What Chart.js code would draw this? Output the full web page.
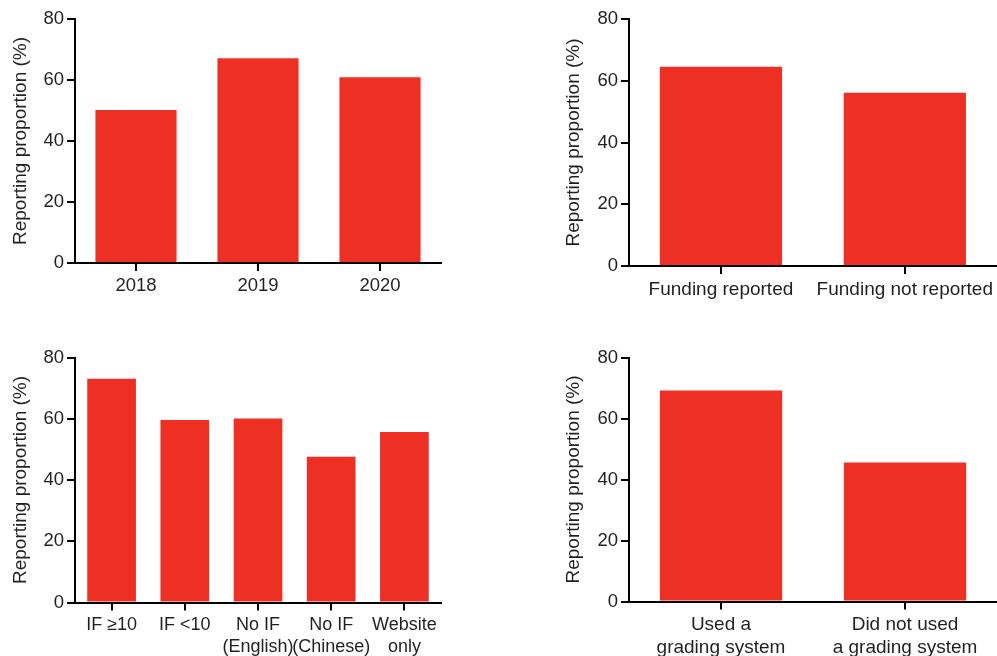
<!DOCTYPE html>
<html>
<head>
<meta charset="utf-8">
<script src="https://cdn.jsdelivr.net/npm/chart.js@4/dist/chart.umd.min.js"></script>
<style>
  html, body { margin: 0; padding: 0; background: #fff; }
  body { width: 997px; height: 656px; position: relative; overflow: hidden; }
  canvas { position: absolute; }
</style>
</head>
<body>
<canvas id="c1" width="460" height="330" style="left:0;top:0"></canvas>
<canvas id="c2" width="457" height="330" style="left:540px;top:0"></canvas>
<canvas id="c3" width="460" height="321" style="left:0;top:335px"></canvas>
<canvas id="c4" width="457" height="321" style="left:540px;top:335px"></canvas>
<script>
// Reporting proportion (%) by subgroup
const yearLabels = ['2018', '2019', '2020'];
const yearValues = [50.2, 67.1, 60.9];

const fundingLabels = ['Funding reported', 'Funding not reported'];
const fundingValues = [64.5, 56.1];

const journalLabels = ['IF \u226510', 'IF <10', ['No IF', '(English)'], ['No IF', '(Chinese)'], ['Website', 'only']];
const journalValues = [73.1, 59.6, 60.1, 47.6, 55.7];

const gradingLabels = [['Used a', 'grading system'], ['Did not used', 'a grading system']];
const gradingValues = [69.2, 45.6];

const yTicks = [0, 20, 40, 60, 80];
const yTitle = 'Reporting proportion (%)';

const BAR_RED = 'rgb(237,47,36)';
const INK = '#231f20';
const FONT = '"Liberation Sans", Arial, Helvetica, sans-serif';

function makePanel(id, labels, values, geo) {
  const canvas = document.getElementById(id);
  new Chart(canvas, {
    type: 'bar',
    data: {
      labels: labels,
      datasets: [{
        data: values,
        backgroundColor: BAR_RED,
        borderWidth: 0,
        categoryPercentage: 1,
        barPercentage: 0.665
      }]
    },
    options: {
      responsive: false,
      animation: false,
      devicePixelRatio: 1,
      layout: { padding: { top: geo.top, right: geo.right, left: 0, bottom: 0 } },
      plugins: { legend: { display: false }, tooltip: { enabled: false } },
      scales: {
        x: {
          grid: { display: true, drawOnChartArea: false, drawTicks: true, tickLength: 8,
                  offset: false, color: '#000', lineWidth: 2 },
          border: { display: true, color: '#000', width: 2 },
          ticks: { color: INK, font: { family: FONT, size: geo.fs }, padding: 4,
                   maxRotation: 0, minRotation: 0, autoSkip: false },
          afterFit: s => { s.height = geo.xh; }
        },
        y: {
          min: 0, max: 80,
          afterBuildTicks: s => { s.ticks = yTicks.map(v => ({ value: v })); },
          grid: { display: true, drawOnChartArea: false, drawTicks: true, tickLength: 8,
                  color: '#000', lineWidth: 2 },
          border: { display: true, color: '#000', width: 2 },
          ticks: { color: INK, font: { family: FONT, size: 18.5 }, padding: 3 },
          title: { display: true, text: yTitle, color: INK,
                   font: { family: FONT, size: 19 }, padding: { top: geo.tp, bottom: 0 } },
          afterFit: s => { s.width = geo.yw; }
        }
      }
    }
  });
}

makePanel('c1', yearLabels, yearValues, { top: 19, right: 19, xh: 67, yw: 75, tp: 9, fs: 18.5 });
makePanel('c2', fundingLabels, fundingValues, { top: 19, right: 0, xh: 64, yw: 89, tp: 22, fs: 19 });
makePanel('c3', journalLabels, journalValues, { top: 22.5, right: 19, xh: 53.5, yw: 75, tp: 9, fs: 18 });
makePanel('c4', gradingLabels, gradingValues, { top: 22.5, right: 0, xh: 54.5, yw: 89, tp: 22, fs: 19 });
</script>
</body>
</html>
